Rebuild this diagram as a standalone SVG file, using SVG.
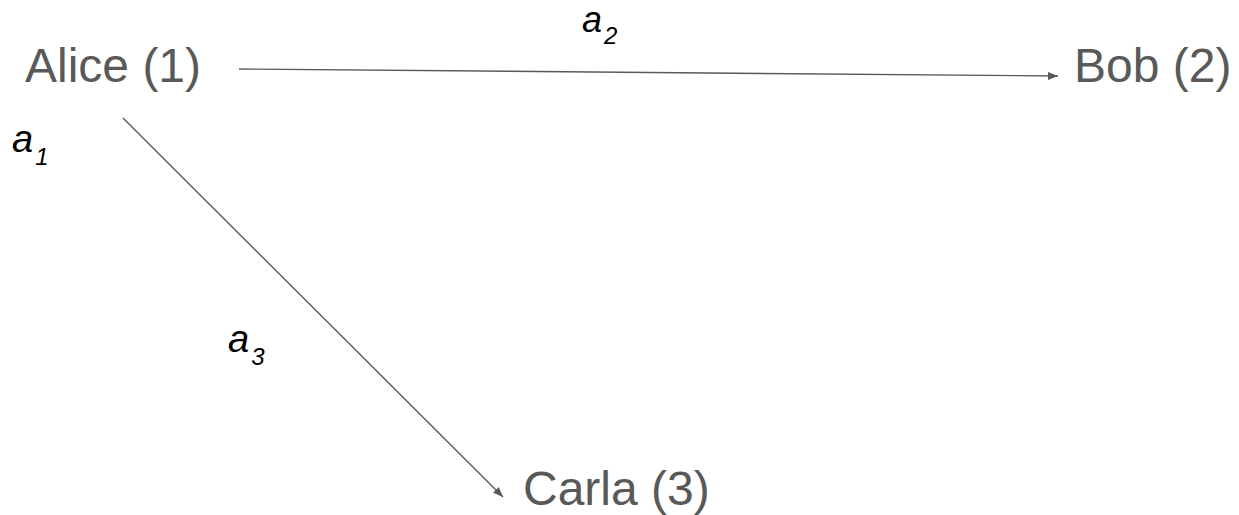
<svg xmlns="http://www.w3.org/2000/svg" width="1239" height="515" viewBox="0 0 1239 515">
<style>
.node{font-family:"Liberation Sans",Arial,sans-serif;font-size:48px;fill:#595959}
.lbl{font-family:"Liberation Sans",Arial,sans-serif;font-style:italic;font-size:38px;fill:#000}
.sub{font-size:24px}
.edge{stroke:#595959;stroke-width:1.4;fill:none}
</style>
<defs>
<marker id="arr" viewBox="0 0 10 10" refX="10" refY="5" markerWidth="10" markerHeight="10" markerUnits="userSpaceOnUse" orient="auto">
<path d="M0,1 L10,5 L0,9 Z" fill="#595959"/>
</marker>
</defs>
<rect width="1239" height="515" fill="#fff"/>
<g id="connectors">
<line class="edge" x1="239" y1="69" x2="1058" y2="76" marker-end="url(#arr)"/>
<line class="edge" x1="123" y1="118" x2="503" y2="497" marker-end="url(#arr)"/>
</g>
<g id="alice"><text class="node" x="25" y="82">Alice (1)</text></g>
<g id="bob"><text class="node" x="1074" y="82">Bob (2)</text></g>
<g id="carla"><text class="node" x="523" y="505">Carla (3)</text></g>
<g id="label-a1"><text class="lbl" x="12" y="152">a<tspan class="sub" dx="2" dy="13">1</tspan></text></g>
<g id="label-a2"><text class="lbl" x="582" y="32" style="font-size:36px">a<tspan class="sub" dx="2" dy="12">2</tspan></text></g>
<g id="label-a3"><text class="lbl" x="228" y="352">a<tspan class="sub" dx="2" dy="13">3</tspan></text></g>
</svg>
